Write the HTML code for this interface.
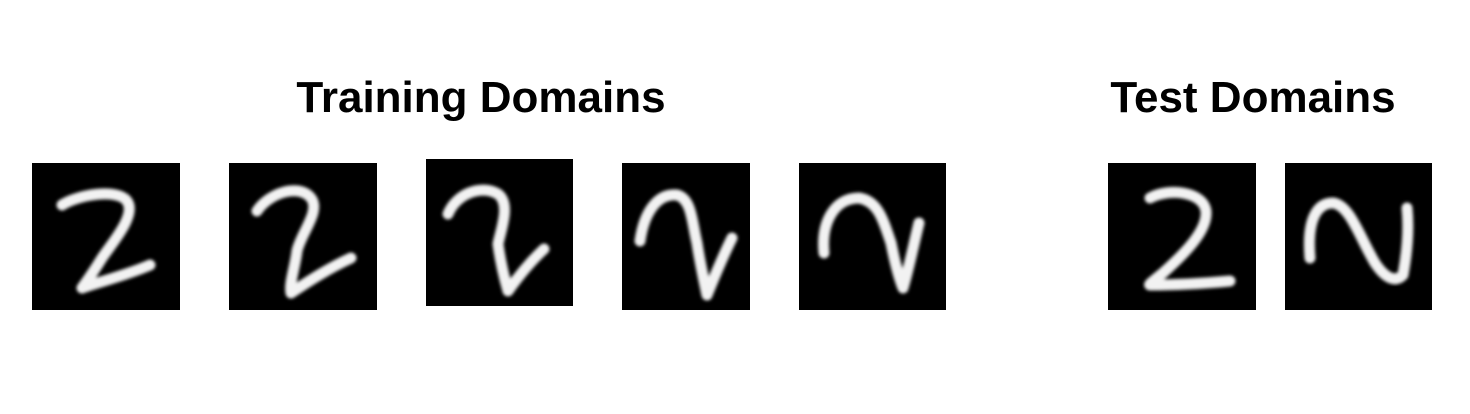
<!DOCTYPE html>
<html><head><meta charset="utf-8"><style>
body{margin:0;width:1470px;height:414px;background:#fff;overflow:hidden;position:relative;font-family:"Liberation Sans",sans-serif}
.t{position:absolute;font-weight:bold;font-size:44px;color:#000;white-space:nowrap;transform:translateX(-50%)}
svg{position:absolute;left:0;top:0}
</style></head><body>
<div class="t" style="left:481px;top:73px">Training Domains</div>
<div class="t" style="left:1253px;top:73px">Test Domains</div>
<svg width="1470" height="414">
<defs><filter id="b"><feGaussianBlur stdDeviation="1.6"/></filter></defs>
<g fill="none" stroke="#f2f2f2" stroke-width="11" stroke-linecap="round" stroke-linejoin="round">
<g transform="translate(32,163)">
<rect width="148" height="147" fill="#000" stroke="none"/>
<path filter="url(#b)" d="M30,42 C45,32 85,25 95,38 C105,52 80,80 70,95 C62,108 55,118 50,125 C70,118 95,112 118,102"/>
</g>
<g transform="translate(229,163)">
<rect width="148" height="147" fill="#000" stroke="none"/>
<path filter="url(#b)" d="M28,48 C40,30 70,20 82,35 C92,48 72,70 68,88 C66,105 60,120 62,130 C80,118 100,105 122,95"/>
</g>
<g transform="translate(426,159)">
<rect width="147" height="147" fill="#000" stroke="none"/>
<path filter="url(#b)" d="M22,55 C30,35 55,25 72,35 C85,45 75,70 72,85 C74,100 78,118 82,132 C92,118 105,102 118,90"/>
</g>
<g transform="translate(622,163)">
<rect width="128" height="147" fill="#000" stroke="none"/>
<path filter="url(#b)" d="M18,78 C22,50 35,30 55,32 C70,36 70,60 75,80 C78,100 82,118 85,132 C92,115 100,95 110,75"/>
</g>
<g transform="translate(799,163)">
<rect width="147" height="147" fill="#000" stroke="none"/>
<path filter="url(#b)" d="M25,90 C22,60 35,35 60,35 C80,38 85,60 92,80 C96,100 100,115 104,125 C110,105 115,80 120,60"/>
</g>
<g transform="translate(1108,163)">
<rect width="148" height="147" fill="#000" stroke="none"/>
<path filter="url(#b)" d="M42,35 C60,25 95,28 98,48 C100,68 75,92 55,110 C45,118 40,122 42,122 C70,122 100,120 122,118"/>
</g>
<g transform="translate(1285,163)">
<rect width="147" height="147" fill="#000" stroke="none"/>
<path filter="url(#b)" d="M25,95 C22,60 30,40 48,40 C65,42 75,75 90,100 C100,115 110,120 118,112 C122,90 124,65 122,45"/>
</g>
</g>
</svg>
</body></html>
